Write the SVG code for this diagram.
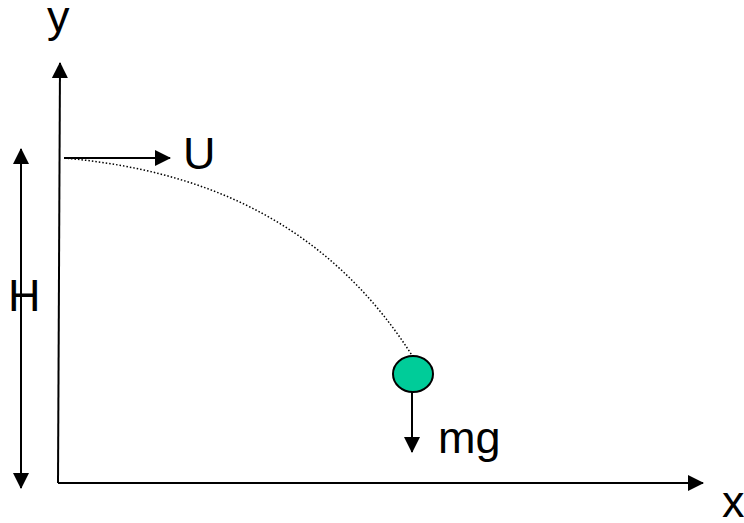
<svg xmlns="http://www.w3.org/2000/svg" width="744" height="523" viewBox="0 0 744 523">
<defs>
<marker id="ah" viewBox="0 0 16 16" refX="15" refY="8" markerWidth="16" markerHeight="16" markerUnits="userSpaceOnUse" orient="auto-start-reverse">
<path d="M0,0 L16,8 L0,16 Z" fill="#000"/>
</marker>
</defs>
<style>
.ln{stroke:#000;stroke-width:2;fill:none}
.lbl{font-family:"Liberation Sans",Arial,sans-serif;font-size:45px;fill:#000}
</style>
<rect width="744" height="523" fill="#fff"/>
<g id="connectors">
<path class="ln" d="M58,483 L60,63" marker-end="url(#ah)"/>
<path class="ln" d="M58,483 L703,483" marker-end="url(#ah)"/>
<path class="ln" d="M64,158 L170,158" marker-end="url(#ah)"/>
<path class="ln" d="M21,149 L21,488" marker-start="url(#ah)" marker-end="url(#ah)"/>
<path class="ln" d="M412,392 L412,452" marker-end="url(#ah)"/>
<path d="M64,158 C200,170 330,220 418,365" stroke="#000" stroke-width="1.5" stroke-dasharray="1.5 2" fill="none"/>
</g>
<g id="ball">
<ellipse cx="413" cy="374" rx="20" ry="18" fill="#00CC99" stroke="#000" stroke-width="2"/>
<path d="M64,158 C200,170 330,220 418,365" stroke="#000" stroke-width="1.5" stroke-dasharray="1.5 2" fill="none" opacity="0"/>
</g>
<g id="label-y"><text class="lbl" x="47" y="32">y</text></g>
<g id="label-U"><text class="lbl" x="183" y="169">U</text></g>
<g id="label-H"><text class="lbl" x="8" y="311">H</text></g>
<g id="label-mg"><text class="lbl" x="438" y="453">mg</text></g>
<g id="label-x"><text class="lbl" x="722" y="517">x</text></g>
</svg>
